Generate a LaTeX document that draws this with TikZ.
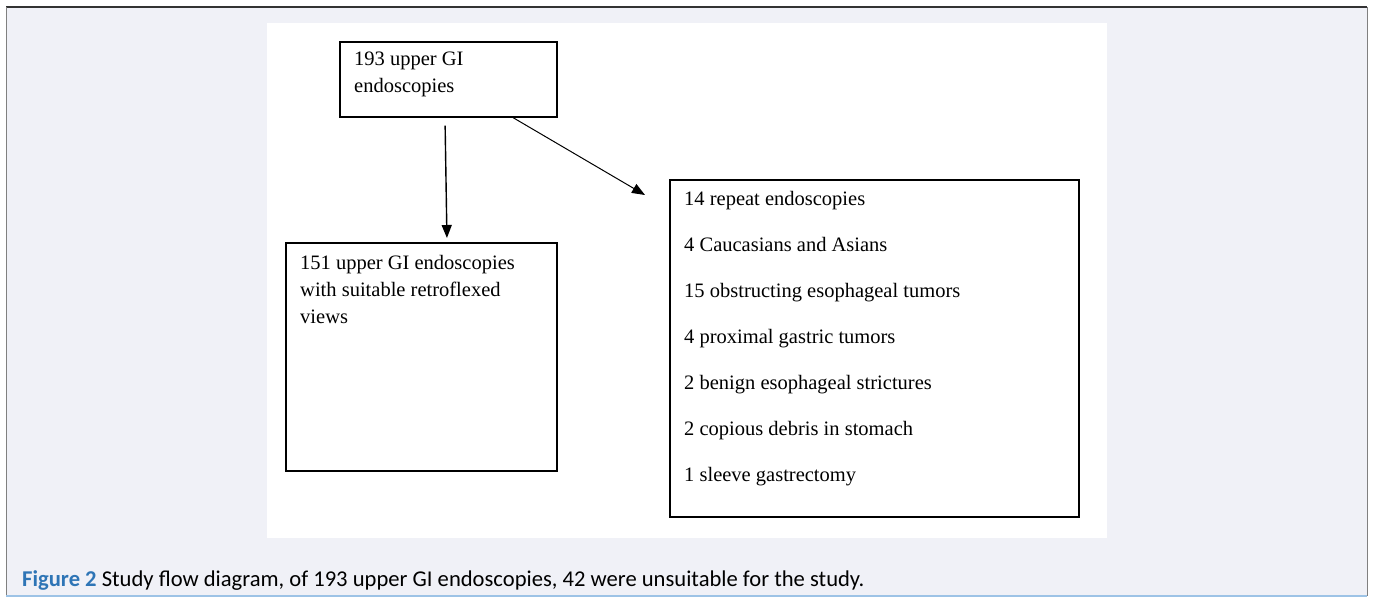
\documentclass[tikz,border=0pt]{standalone}
\usepackage{fontspec}
\setmainfont{Liberation Serif}
\newfontfamily\capfont{Carlito}
\usepackage{tikz}
\usetikzlibrary{arrows.meta,positioning}

\definecolor{panelbg}{RGB}{240,241,247}
\definecolor{capblue}{RGB}{46,117,182}
\definecolor{edgeblue}{RGB}{157,195,230}

\begin{document}
\begin{tikzpicture}[x=1pt,y=-1pt]
		\tikzstyle{Box}		= [draw, line width=1.6pt, inner sep=0pt, anchor=north west]
		\tikzstyle{Txt}		= [inner sep=0pt, anchor=north west, align=left, font=\fontsize{20.5}{27}\selectfont]
		\tikzstyle{List}	= [Txt, font=\fontsize{20.5}{46}\selectfont]
		\tikzstyle{Arr}		= [-{Triangle[length=13pt,width=10pt]}, line width=1.4pt]

		\useasboundingbox (0,0) rectangle (1373,597);
		% panel and white picture area
		\fill[panelbg] (6,7) rectangle (1367,596);
		\draw[line width=1.5pt, black!80] (6,7) -- (1367,7);
		\draw[line width=1pt, gray] (6,7) -- (6,596);
		\draw[line width=1pt, gray] (1367,7) -- (1367,596);
		\draw[line width=1.5pt, edgeblue] (6,596) -- (1367,596);
		\fill[white] (267,23) rectangle (1107,538);

		\node (total) at (339,41) [Box, minimum width=217pt, minimum height=75pt] {};
		\node (incl) at (285,242) [Box, minimum width=271pt, minimum height=228pt] {};
		\node (excl) at (669,179) [Box, minimum width=409pt, minimum height=337pt] {};

		\node (totaltxt) at ([shift={(15,11)}]total.north west) [Txt] {193 upper GI\\endoscopies};
		\node (incltxt) at ([shift={(15,13)}]incl.north west) [Txt] {151 upper GI endoscopies\\with suitable retroflexed\\views};
		\node (excltxt) at ([shift={(15,12)}]excl.north west) [List] {14 repeat endoscopies\\4 Caucasians and Asians\\15 obstructing esophageal tumors\\4 proximal gastric tumors\\2 benign esophageal strictures\\2 copious debris in stomach\\1 sleeve gastrectomy};

		\draw [Arr, shorten <=8pt, shorten >=4pt] ([xshift=106]total.south west) to ([xshift=162]incl.north west);
		\draw [Arr, line width=1pt] ([xshift=174]total.south west) to ([shift={(-24,16)}]excl.north west);

		\node (caption) at (22,586) [anchor=base west, inner sep=0pt, font=\capfont\fontsize{22.6}{26}\selectfont] {\textcolor{capblue}{\bfseries Figure 2} Study flow diagram, of 193 upper GI endoscopies, 42 were unsuitable for the study.};
	\end{tikzpicture}
\end{document}
